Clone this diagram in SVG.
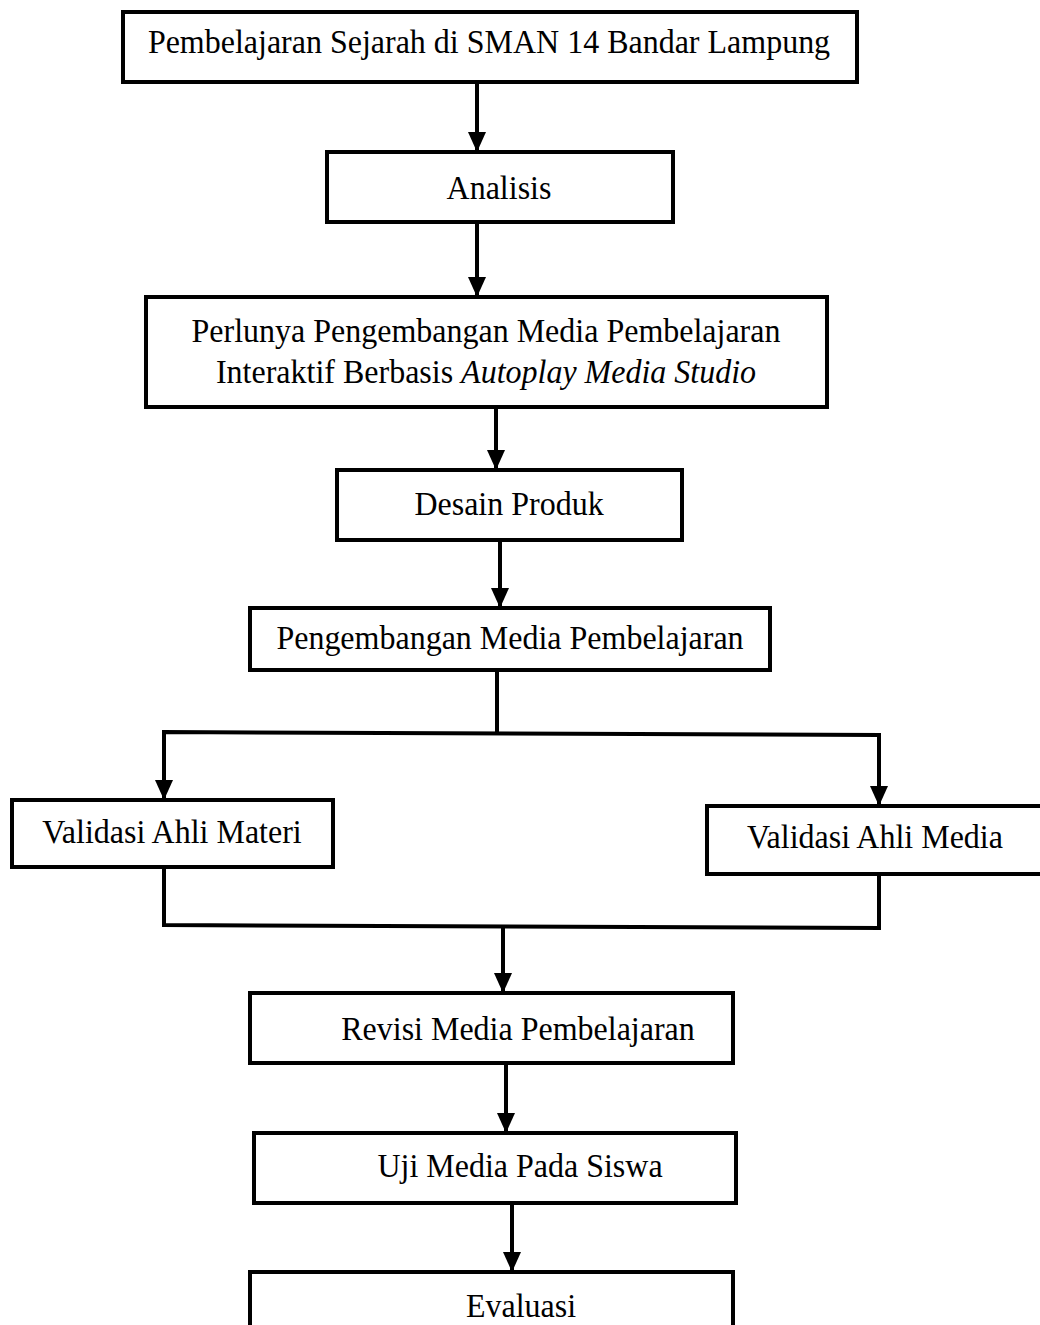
<svg xmlns="http://www.w3.org/2000/svg" width="1040" height="1325" viewBox="0 0 1040 1325">
<defs>
<style>
.box{fill:#fff;stroke:#000;stroke-width:4}
.t{font-family:"Liberation Serif","Times New Roman",serif;font-size:33.5px;fill:#000;text-anchor:middle}
.c{fill:none;stroke:#000;stroke-width:4}
</style>
<marker id="ah" markerWidth="20" markerHeight="18" refX="20" refY="9" orient="auto" markerUnits="userSpaceOnUse" viewBox="0 0 20 18">
<path d="M0,0 L20,9 L0,18 Z" fill="#000"/>
</marker>
</defs>
<rect width="1040" height="1325" fill="#fff"/>
<g id="connectors">
<line class="c" x1="477" y1="82" x2="477" y2="152" marker-end="url(#ah)"/>
<line class="c" x1="477" y1="222" x2="477" y2="297" marker-end="url(#ah)"/>
<line class="c" x1="496" y1="407" x2="496" y2="470" marker-end="url(#ah)"/>
<line class="c" x1="500" y1="540" x2="500" y2="608" marker-end="url(#ah)"/>
<line class="c" x1="497" y1="670" x2="497" y2="732"/>
<polyline class="c" points="164,800 164,732 879,735 879,806"/>
<line class="c" x1="164" y1="760" x2="164" y2="800" marker-end="url(#ah)"/>
<line class="c" x1="879" y1="765" x2="879" y2="806" marker-end="url(#ah)"/>
<polyline class="c" points="164,867 164,925 879,928 879,874"/>
<line class="c" x1="503" y1="926" x2="503" y2="993" marker-end="url(#ah)"/>
<line class="c" x1="506" y1="1063" x2="506" y2="1133" marker-end="url(#ah)"/>
<line class="c" x1="512" y1="1203" x2="512" y2="1272" marker-end="url(#ah)"/>
</g>
<g id="n1"><rect class="box" x="123" y="12" width="734" height="70"/><text class="t" transform="translate(489 53) scale(0.955 1)">Pembelajaran Sejarah di SMAN 14 Bandar Lampung</text></g>
<g id="n2"><rect class="box" x="327" y="152" width="346" height="70"/><text class="t" transform="translate(499 199) scale(0.955 1)">Analisis</text></g>
<g id="n3"><rect class="box" x="146" y="297" width="681" height="110"/><text class="t" transform="translate(486 342) scale(0.955 1)">Perlunya Pengembangan Media Pembelajaran</text><text class="t" transform="translate(486 383) scale(0.955 1)">Interaktif Berbasis <tspan font-style="italic">Autoplay Media Studio</tspan></text></g>
<g id="n4"><rect class="box" x="337" y="470" width="345" height="70"/><text class="t" transform="translate(509 515) scale(0.955 1)">Desain Produk</text></g>
<g id="n5"><rect class="box" x="250" y="608" width="520" height="62"/><text class="t" transform="translate(510 649) scale(0.955 1)">Pengembangan Media Pembelajaran</text></g>
<g id="n6"><rect class="box" x="12" y="800" width="321" height="67"/><text class="t" transform="translate(172 843) scale(0.955 1)">Validasi Ahli Materi</text></g>
<g id="n7"><rect class="box" x="707" y="806" width="340" height="68"/><text class="t" transform="translate(875 848) scale(0.955 1)">Validasi Ahli Media</text></g>
<g id="n8"><rect class="box" x="250" y="993" width="483" height="70"/><text class="t" transform="translate(518 1040) scale(0.955 1)">Revisi Media Pembelajaran</text></g>
<g id="n9"><rect class="box" x="254" y="1133" width="482" height="70"/><text class="t" transform="translate(520 1177) scale(0.955 1)">Uji Media Pada Siswa</text></g>
<g id="n10"><rect class="box" x="250" y="1272" width="483" height="70"/><text class="t" transform="translate(521 1317) scale(0.955 1)">Evaluasi</text></g>
</svg>
